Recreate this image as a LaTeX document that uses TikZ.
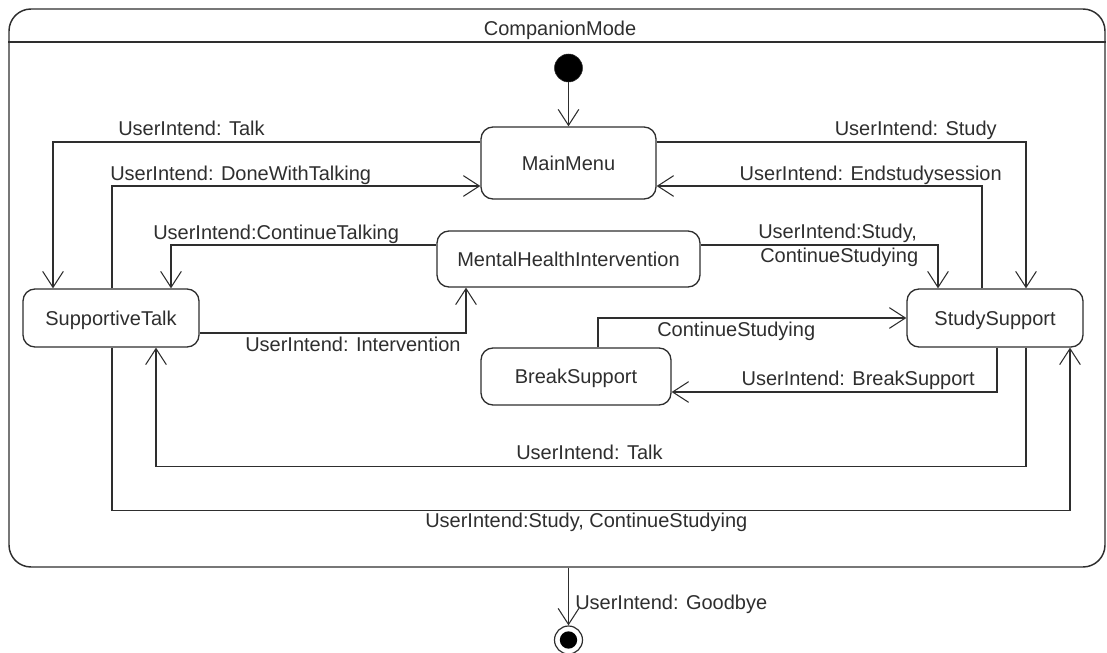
\documentclass[tikz,border=0pt]{standalone}
\usepackage{fontspec}
\setmainfont{Liberation Sans}
\usetikzlibrary{arrows.meta,calc}
\definecolor{ink}{HTML}{2E2E2E}
\begin{document}
\begin{tikzpicture}[x=0.75pt,y=-0.75pt,
  every node/.style={text=ink,font=\fontsize{15pt}{18pt}\selectfont},
  state/.style={draw=ink,line width=1pt,rectangle,rounded corners=9pt,
    inner sep=0pt,text height=10.7pt,text depth=0pt},
  tr/.style={draw=ink,line width=0.8pt,-{Straight Barb[length=12pt,width=15.5pt,line width=0.8pt]}},
  ln/.style={draw=ink,line width=0.8pt},
  lbl/.style={inner sep=0pt}]
\useasboundingbox (0,0) rectangle (1107,653);

% composite state frame
\node[draw=ink,line width=1.1pt,rectangle,rounded corners=16.5pt,inner sep=0pt,
  minimum width=822pt,minimum height=418.5pt] (cm) at (557,288) {};
\draw[ln,line width=1.1pt] (cm.west |- 0,42) -- (cm.east |- 0,42);
\node[lbl,anchor=base] (title) at (560,35) {CompanionMode};

% pseudo states
\node[circle,fill=black,draw=ink,inner sep=0pt,minimum size=21pt] (init) at (568.5,68) {};
\node[circle,draw=ink,line width=0.9pt,fill=white,inner sep=0pt,minimum size=21pt] (fin) at (568.5,640) {};
\node[circle,fill=black,inner sep=0pt,minimum size=13pt] (fincore) at (fin) {};

% states
\node[state,minimum width=131.25pt,minimum height=54pt] (mm) at (568.5,163) {MainMenu};
\node[state,minimum width=132pt,minimum height=43.5pt] (st) at (111,318) {SupportiveTalk};
\node[state,minimum width=197.25pt,minimum height=42pt] (mhi) at (568.5,259) {MentalHealthIntervention};
\node[state,minimum width=132pt,minimum height=43.5pt] (ss) at (995,318) {StudySupport};
\node[state,minimum width=142.5pt,minimum height=42.75pt] (bs) at (576,376.5) {BreakSupport};

% transitions
\draw[tr] (init.south) -- (mm.north);
\draw[tr] (mm.west |- 0,142) -| (st.north -| 53,0);
\draw[tr] (st.north -| 112,0) |- (mm.west |- 0,186);
\draw[tr] (mm.east |- 0,142) -| (ss.north -| 1026,0);
\draw[tr] (ss.north -| 982,0) |- (mm.east |- 0,186);
\draw[tr] (mhi.west |- 0,245) -| (st.north -| 171,0);
\draw[tr] (st.east |- 0,333) -| (mhi.south -| 466,0);
\draw[tr] (mhi.east |- 0,245) -| (ss.north -| 938,0);
\draw[tr] (bs.north -| 598,0) |- (ss.west |- 0,318);
\draw[tr] (ss.south -| 997,0) |- (bs.east |- 0,392);
\draw[tr] (ss.south -| 1026,0) -- ++(0,119) -| (st.south -| 156,0);
\draw[tr] (st.south -| 112,0) -- ++(0,163) -| (ss.south -| 1070,0);
\draw[tr] (cm.south -| fin) -- (fin.north);

% transition labels
\node[lbl,anchor=base west] (l1) at (118,135) {UserIntend: Talk};
\node[lbl,anchor=base west] (l2) at (110,180) {UserIntend: DoneWithTalking};
\node[lbl,anchor=base east] (l3) at (997,135) {UserIntend: Study};
\node[lbl,anchor=base east] (l4) at (1002,180) {UserIntend: Endstudysession};
\node[lbl,anchor=base west] (l5) at (153,239) {UserIntend:ContinueTalking};
\node[lbl,anchor=base west] (l6) at (245,351) {UserIntend: Intervention};
\node[lbl,anchor=base west] (l7a) at (758,238) {UserIntend:Study,};
\node[lbl,anchor=base west] (l7b) at (760,262) {ContinueStudying};
\node[lbl,anchor=base west] (l8) at (657,336) {ContinueStudying};
\node[lbl,anchor=base east] (l9) at (975,385) {UserIntend: BreakSupport};
\node[lbl,anchor=base west] (l10) at (516,459) {UserIntend: Talk};
\node[lbl,anchor=base west] (l11) at (425,527) {UserIntend:Study, ContinueStudying};
\node[lbl,anchor=base west] (l12) at (575,609) {UserIntend: Goodbye};
\end{tikzpicture}
\end{document}
